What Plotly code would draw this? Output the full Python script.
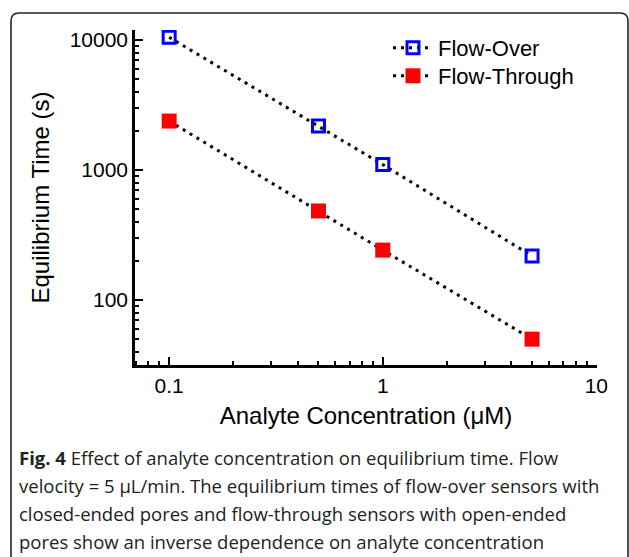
import plotly.graph_objects as go

# ---- data ----
concentration = [0.1, 0.5, 1, 5]
flow_over = [10500, 2180, 1100, 218]
flow_through = [2380, 484, 242, 50]
series_names = ["Flow-Over", "Flow-Through"]
x_tick_vals = [0.1, 1, 10]
x_tick_text = ["0.1", "1", "10"]
y_tick_vals = [100, 1000, 10000]
y_tick_text = ["100", "1000", "10000"]
x_title = "Analyte Concentration (\u03bcM)"
y_title = "Equilibrium Time (s)"
caption_lines = [
    "<b>Fig. 4</b> Effect of analyte concentration on equilibrium time. Flow",
    "velocity = 5 \u00b5L/min. The equilibrium times of flow-over sensors with",
    "closed-ended pores and flow-through sensors with open-ended",
    "pores show an inverse dependence on analyte concentration",
]

W, H = 629, 557
L, R, T, B = 135, 32, 30, 192
PW, PH = W - L - R, H - T - B


def px(xp):
    return (xp - L) / PW


def py(yp):
    return (H - B - yp) / PH


AX_FONT = "Liberation Sans, Arial, sans-serif"
dot = "3px,5px"

fig = go.Figure()
fig.add_trace(go.Scatter(
    x=concentration, y=flow_over, name=series_names[0], mode="lines+markers",
    line=dict(color="black", width=3, dash=dot),
    marker=dict(symbol="square-open", size=12, color="#0000FF",
                line=dict(color="#0000FF", width=3)),
    legend="legend",
))
fig.add_trace(go.Scatter(
    x=concentration, y=flow_through, name=series_names[1], mode="lines+markers",
    line=dict(color="black", width=3, dash=dot),
    marker=dict(symbol="square", size=15, color="#FF0000",
                line=dict(width=0)),
    legend="legend2",
))

minor_x = [k * 10 ** e for e in (-2, -1, 0) for k in range(2, 10)]
minor_y = [k * 10 ** e for e in (1, 2, 3) for k in range(2, 10)]

fig.update_xaxes(
    type="log", range=[-1.16, 1.003], showgrid=False, zeroline=False,
    showline=True, linecolor="black", linewidth=2.5,
    ticks="inside", ticklen=8, tickwidth=2, tickcolor="black",
    tickvals=x_tick_vals, ticktext=x_tick_text,
    tickfont=dict(family=AX_FONT, size=21, color="black"),
    minor=dict(tickvals=minor_x, ticks="inside", ticklen=4, tickwidth=2,
               tickcolor="black", showgrid=False),
    title=dict(text=x_title, font=dict(family=AX_FONT, size=24, color="black"),
               standoff=12),
)
fig.update_yaxes(
    type="log", range=[1.5, 4.077], showgrid=False, zeroline=False,
    showline=True, linecolor="black", linewidth=2.5,
    ticks="inside", ticklen=8, tickwidth=2, tickcolor="black",
    tickvals=y_tick_vals, ticktext=y_tick_text,
    tickfont=dict(family=AX_FONT, size=21, color="black"),
    minor=dict(tickvals=minor_y, ticks="inside", ticklen=4, tickwidth=2,
               tickcolor="black", showgrid=False),
    title=dict(text=y_title, font=dict(family=AX_FONT, size=24, color="black"),
               standoff=14),
)

# rounded border frame
r = 8
xl, xr, yt, yb = 11, 628, 13, 600
path = (f"M {px(xl)},{py(yb)} L {px(xl)},{py(yt + r)} "
        f"Q {px(xl)},{py(yt)} {px(xl + r)},{py(yt)} "
        f"L {px(xr - r)},{py(yt)} Q {px(xr)},{py(yt)} {px(xr)},{py(yt + r)} "
        f"L {px(xr)},{py(yb)}")
fig.add_shape(type="path", path=path, xref="paper", yref="paper",
              line=dict(color="#222222", width=1.6), layer="above")

cap_y0 = 457
for i, txt in enumerate(caption_lines):
    fig.add_annotation(
        text=txt, xref="paper", yref="paper", x=px(17), y=py(cap_y0 + 28 * i),
        xanchor="left", yanchor="middle", showarrow=False, align="left",
        font=dict(family="Open Sans", size=18.5, color="#222222"),
    )

leg_common = dict(xanchor="left", yanchor="top", bgcolor="rgba(0,0,0,0)",
                  font=dict(family=AX_FONT, size=22, color="black"), itemwidth=40)
fig.update_layout(
    width=W, height=H, margin=dict(l=L, r=R, t=T, b=B),
    plot_bgcolor="white", paper_bgcolor="white",
    showlegend=True,
    legend=dict(x=px(388), y=py(27), **leg_common),
    legend2=dict(x=px(388), y=py(55), **leg_common),
)

fig.write_html("out.html")
